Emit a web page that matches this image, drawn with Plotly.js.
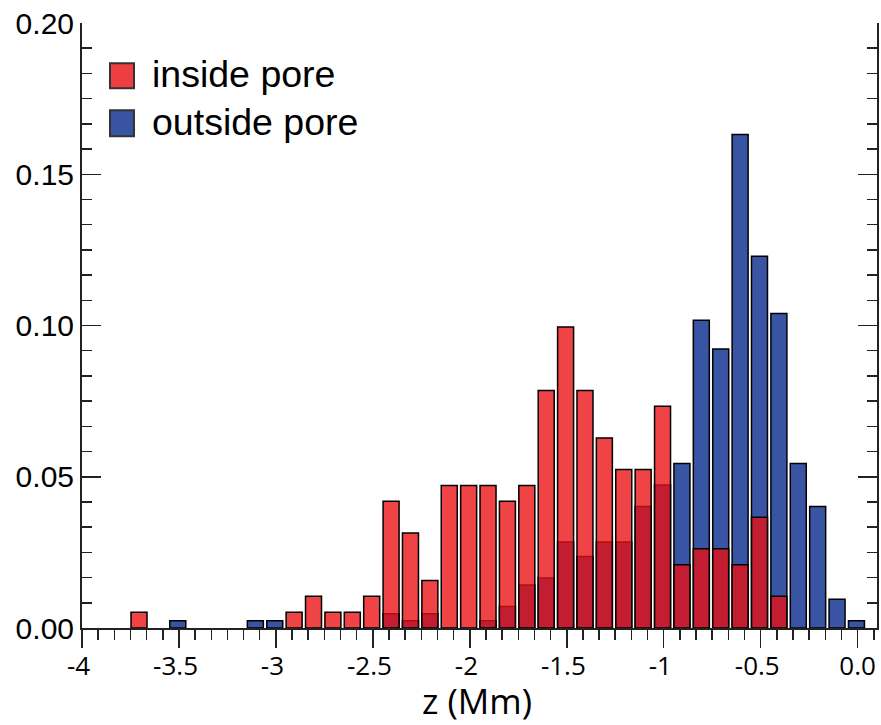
<!DOCTYPE html>
<html>
<head>
<meta charset="utf-8">
<script src="https://cdn.plot.ly/plotly-3.0.1.min.js"></script>
<style>html,body{margin:0;padding:0;background:#fff;}#chart{width:881px;height:725px;}</style>
</head>
<body>
<div id="chart"></div>
<script>
// Histogram bins (z in Mm, bin centres) and normalised frequencies
const zInside = [-3.7, -2.9, -2.8, -2.7, -2.6, -2.5, -2.4, -2.3, -2.2, -2.1, -2.0, -1.9, -1.8, -1.7,
                 -1.6, -1.5, -1.4, -1.3, -1.2, -1.1, -1.0, -0.9, -0.8, -0.7, -0.6, -0.5, -0.4];
const fracInside = [0.0052, 0.0052, 0.0105, 0.0052, 0.0052, 0.0105, 0.0419, 0.0314, 0.0157, 0.0471,
                    0.0471, 0.0471, 0.0419, 0.0471, 0.0785, 0.0995, 0.0785, 0.0628, 0.0524, 0.0524,
                    0.0733, 0.0209, 0.0262, 0.0262, 0.0209, 0.0366, 0.0105];

const zOutside = [-3.5, -3.1, -3.0, -2.4, -2.3, -2.2, -1.9, -1.8, -1.7, -1.6, -1.5, -1.4, -1.3,
                  -1.2, -1.1, -1.0, -0.9, -0.8, -0.7, -0.6, -0.5, -0.4, -0.3, -0.2, -0.1, 0.0];
const fracOutside = [0.0024, 0.0024, 0.0024, 0.0047, 0.0024, 0.0047, 0.0024, 0.0071, 0.0142, 0.0165,
                     0.0284, 0.0236, 0.0284, 0.0284, 0.0402, 0.0473, 0.0544, 0.1017, 0.0922, 0.1631,
                     0.1229, 0.1040, 0.0544, 0.0402, 0.0095, 0.0024];

const seriesNames = ['inside pore', 'outside pore'];
const xTickVals = [-4, -3.5, -3, -2.5, -2, -1.5, -1, -0.5, 0];
const xTickText = ['-4', '-3.5', '-3', '-2.5', '-2', '-1.5', '-1', '-0.5', '0.0'];
const yTickVals = [0, 0.05, 0.10, 0.15, 0.20];
const yTickText = ['0.00', '0.05', '0.10', '0.15', '0.20'];
const xTitle = 'z (Mm)';

const RED = 'rgba(234,14,18,0.78)';
const RED_SWATCH = 'rgb(239,62,66)';
const BLUE = 'rgb(58,84,164)';
const AX = '#222';
const BW = 0.0825;
const SANS = 'Liberation Sans, Arial, sans-serif';
const HUM = 'Open Sans, sans-serif';

const traces = [
  {type: 'bar', name: seriesNames[1], x: zOutside, y: fracOutside, width: BW, offset: -BW / 2 - 0.006,
   marker: {color: BLUE, line: {color: '#000', width: 1.5}}, showlegend: false, hoverinfo: 'x+y'},
  {type: 'bar', name: seriesNames[0], x: zInside, y: fracInside, width: BW, offset: -BW / 2 - 0.006,
   marker: {color: RED, line: {color: '#000', width: 1.5}}, showlegend: false, hoverinfo: 'x+y'}
];

const minorX = {tick0: -4, dtick: 0.5 / 6, ticklen: 10, tickwidth: 1.5, tickcolor: AX, showgrid: false};

// minus sign hangs to the left of the centred number: pad the right side by a punctuation-width space
const xTickLabels = xTickText.map(t => t.charAt(0) === '-' ? t + '\u2008' : t);

const layout = {
  width: 881, height: 725,
  margin: {l: 82, r: 4, t: 23, b: 97, pad: 0},
  paper_bgcolor: '#fff', plot_bgcolor: '#fff',
  barmode: 'overlay', bargap: 0,
  showlegend: false,
  font: {family: SANS, color: '#000'},
  xaxis: {
    range: [-4, 0.1], tickmode: 'array', tickvals: xTickVals, ticktext: xTickLabels,
    ticks: 'outside', ticklen: 18, tickwidth: 1.5, tickcolor: AX,
    minor: Object.assign({ticks: 'outside'}, minorX),
    showline: true, linewidth: 2, linecolor: AX, mirror: false,
    showgrid: false, zeroline: false,
    ticklabelstandoff: -4,
    tickfont: {family: HUM, size: 26, color: '#000'}
  },
  xaxis2: {
    overlaying: 'x', side: 'top', anchor: 'y',
    range: [-4, 0.1], tickmode: 'array', tickvals: xTickVals, showticklabels: false,
    ticks: 'inside', ticklen: 18, tickwidth: 1.5, tickcolor: AX,
    minor: Object.assign({ticks: 'inside'}, minorX),
    showline: true, linewidth: 2, linecolor: AX,
    showgrid: false, zeroline: false
  },
  yaxis: {
    range: [0, 0.2], tickmode: 'array', tickvals: yTickVals, ticktext: yTickText,
    ticks: 'inside', ticklen: 19, tickwidth: 1.5, tickcolor: AX,
    minor: {tick0: 0, dtick: 0.05 / 6, ticks: 'inside', ticklen: 10, tickwidth: 1.5, tickcolor: AX, showgrid: false},
    showline: true, linewidth: 2, linecolor: AX, mirror: 'ticks',
    showgrid: false, zeroline: false,
    tickfont: {family: SANS, size: 30, color: '#000'}
  },
  shapes: [
    {type: 'rect', xref: 'paper', yref: 'paper', x0: 0.0352, x1: 0.0654, y0: 0.8922, y1: 0.9335,
     fillcolor: RED_SWATCH, line: {color: '#333', width: 2}},
    {type: 'rect', xref: 'paper', yref: 'paper', x0: 0.0352, x1: 0.0654, y0: 0.8129, y1: 0.8559,
     fillcolor: BLUE, line: {color: '#333', width: 2}}
  ],
  annotations: [
    {xref: 'paper', yref: 'paper', x: 0.0855, y: 0.9150, xanchor: 'left', yanchor: 'middle', showarrow: false,
     text: seriesNames[0], font: {family: SANS, size: 37.5, color: '#000'}},
    {xref: 'paper', yref: 'paper', x: 0.0855, y: 0.8370, xanchor: 'left', yanchor: 'middle', showarrow: false,
     text: seriesNames[1], font: {family: SANS, size: 37.5, color: '#000'}},
    {xref: 'paper', yref: 'paper', x: 0.4965, y: -0.1200, xanchor: 'center', yanchor: 'middle', showarrow: false,
     text: xTitle, font: {family: HUM, size: 35, color: '#000'}}
  ]
};

Plotly.newPlot('chart', traces, layout, {displayModeBar: false, staticPlot: true});
</script>
</body>
</html>
